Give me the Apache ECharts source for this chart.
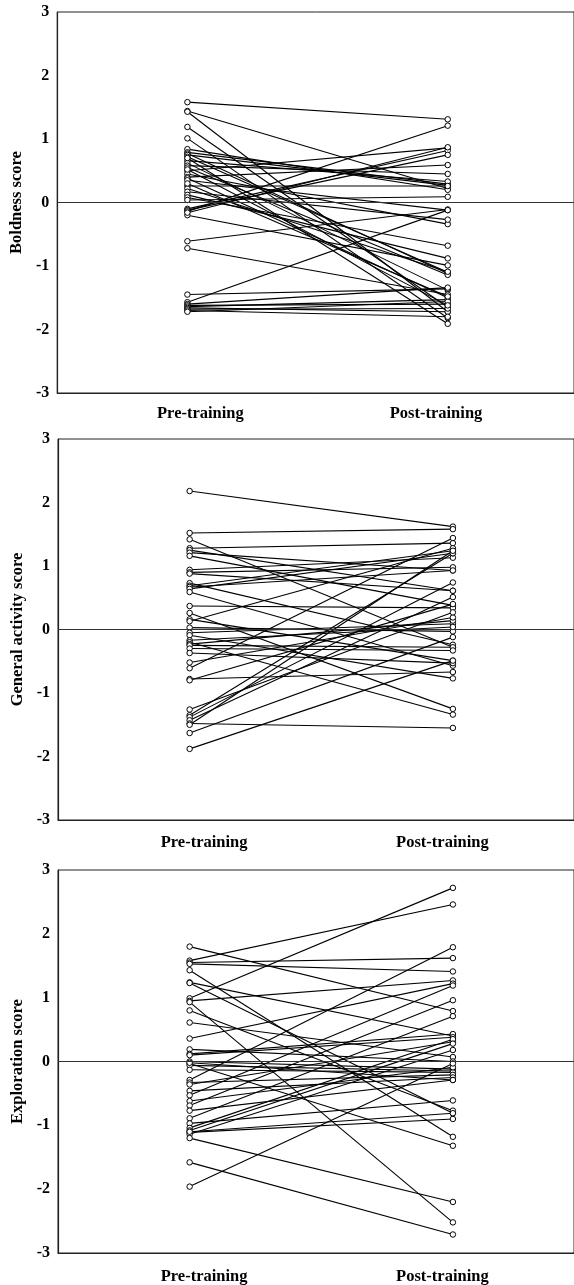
<!DOCTYPE html>
<html>
<head>
<meta charset="utf-8">
<script src="https://cdn.jsdelivr.net/npm/echarts@6/dist/echarts.min.js"></script>
<style>
html,body{margin:0;padding:0;background:#fff;}
#chart{width:574px;height:1285px;}
</style>
</head>
<body>
<div id="chart"></div>
<script>
// Category labels
const categories = ['Pre-training', 'Post-training'];
const yTicks = [-3, -2, -1, 0, 1, 2, 3];
const yNames = ['Boldness score', 'General activity score', 'Exploration score'];

// Panel 1: Boldness
const boldPre  = [1.58,1.44,1.43,1.19,1.01,0.84,0.79,0.77,0.75,0.72,0.66,0.62,0.58,0.55,0.50,0.45,0.40,0.38,0.26,0.22,0.17,0.12,0.08,0.04,-0.10,-0.12,-0.14,-0.20,-0.61,-0.72,-1.45,-1.57,-1.60,-1.62,-1.64,-1.66,-1.68,-1.70,-1.72,0.70,0.52,0.35,0.30,-0.16];
const boldPost = [1.31,0.22,-1.72,-1.65,-1.82,0.20,0.29,-1.12,0.27,-1.10,0.33,-1.38,0.45,-1.14,0.86,-0.34,0.59,-1.50,0.26,-1.09,-0.27,-0.88,-0.68,0.09,0.82,0.75,1.21,-0.99,-0.11,-1.45,-1.36,-0.12,-1.34,-1.60,-1.53,-1.72,-1.67,-1.80,-1.56,-1.91,-1.62,-0.12,-1.48,0.87];

// Panel 2: General activity
const actPre  = [2.18,1.52,1.42,1.28,1.25,1.21,1.16,0.94,0.90,0.88,0.73,0.69,0.67,0.64,0.59,0.37,0.26,0.16,0.13,0.03,-0.05,-0.09,-0.17,-0.20,-0.23,-0.25,-0.30,-0.37,-0.52,-0.61,-0.78,-0.80,-1.26,-1.35,-1.38,-1.43,-1.48,-1.50,-1.63,-1.88];
const actPost = [1.62,1.58,-0.28,1.36,0.61,0.93,0.38,1.13,0.98,0.61,-0.24,1.24,0.93,1.20,-0.57,0.34,-1.25,-0.49,1.28,-0.03,0.09,-0.77,0.04,-1.34,0.14,-0.28,-0.33,-0.53,0.19,1.44,-0.67,0.40,0.27,1.20,0.74,0.51,-1.55,1.24,-0.12,-0.49];

// Panel 3: Exploration
const explPre  = [1.80,1.58,1.55,1.53,1.43,1.24,1.23,0.99,0.95,0.93,0.80,0.61,0.36,0.19,0.12,0.10,0.00,-0.03,-0.06,-0.13,-0.29,-0.33,-0.36,-0.46,-0.53,-0.62,-0.69,-0.77,-0.89,-0.97,-1.04,-1.08,-1.11,-1.14,-1.20,-1.58,-1.96,-1.10,-0.02];
const explPost = [0.79,2.46,1.62,1.41,-1.18,0.40,-0.81,2.72,1.27,-2.52,-0.77,0.07,1.22,0.00,0.43,0.38,-0.12,-1.32,-0.15,-0.17,1.79,-0.21,0.31,-0.25,1.19,-0.09,0.96,-0.29,0.71,-0.61,0.35,0.28,-0.90,0.18,-2.20,-2.71,-0.03,-0.81,-0.29];

const FONT = "'Liberation Serif','Times New Roman',serif";
const PRE_X = 1, POST_X = 3;

const panels = [
  {pre: boldPre, post: boldPost, left: 51, top: 12, height: 381, xmax: 3.97, labelPos: [1.10, 2.91], labelMargin: 12, nameGap: 26},
  {pre: actPre, post: actPost, left: 58, top: 439, height: 381, xmax: 3.92, labelPos: [1.11, 2.92], labelMargin: 14, nameGap: 27},
  {pre: explPre, post: explPost, left: 58, top: 870, height: 383, xmax: 3.92, labelPos: [1.11, 2.92], labelMargin: 15, nameGap: 27}
];

const grids = [], xAxes = [], yAxes = [], series = [];
panels.forEach((p, gi) => {
  grids.push({left: p.left, right: -1, top: p.top, height: p.height, show: true, borderColor: '#222', borderWidth: 1, backgroundColor: 'transparent'});
  xAxes.push({
    type: 'value', gridIndex: gi, min: 0, max: p.xmax,
    axisLine: {show: true, onZero: false, lineStyle: {color: '#222', width: 1.2}},
    axisTick: {show: false}, splitLine: {show: false},
    axisLabel: {
      customValues: p.labelPos,
      formatter: v => (v < 2 ? categories[0] : categories[1]),
      color: '#000', fontFamily: FONT, fontWeight: 'bold', fontSize: 16.5, margin: p.labelMargin
    }
  });
  yAxes.push({
    type: 'value', gridIndex: gi, min: -3, max: 3, interval: 1,
    name: yNames[gi], nameLocation: 'middle', nameGap: p.nameGap, nameRotate: 90,
    nameTextStyle: {color: '#000', fontFamily: FONT, fontWeight: 'bold', fontSize: 16.5},
    axisLine: {show: true, onZero: false, lineStyle: {color: '#222', width: 1.2}},
    axisTick: {show: false}, splitLine: {show: false},
    axisLabel: {
      customValues: yTicks,
      color: '#000', fontFamily: FONT, fontWeight: 'bold', fontSize: 16, margin: 8
    }
  });
  // zero reference line
  series.push({
    type: 'line', xAxisIndex: gi, yAxisIndex: gi, data: [], silent: true,
    markLine: {
      silent: true, symbol: 'none', animation: false,
      label: {show: false},
      lineStyle: {color: '#333', width: 1, type: 'solid'},
      data: [{yAxis: 0}]
    }
  });
  p.pre.forEach((v, i) => {
    series.push({
      type: 'line', xAxisIndex: gi, yAxisIndex: gi, silent: true,
      data: [[PRE_X, v], [POST_X, p.post[i]]],
      symbol: 'circle', symbolSize: 5.5, showSymbol: true,
      lineStyle: {color: '#000', width: 1.1},
      itemStyle: {color: '#fff', borderColor: '#000', borderWidth: 1},
      emphasis: {disabled: true}
    });
  });
});

const chart = echarts.init(document.getElementById('chart'), null, {renderer: 'canvas'});
chart.setOption({
  animation: false,
  backgroundColor: '#fff',
  grid: grids, xAxis: xAxes, yAxis: yAxes, series: series
});
</script>
</body>
</html>
